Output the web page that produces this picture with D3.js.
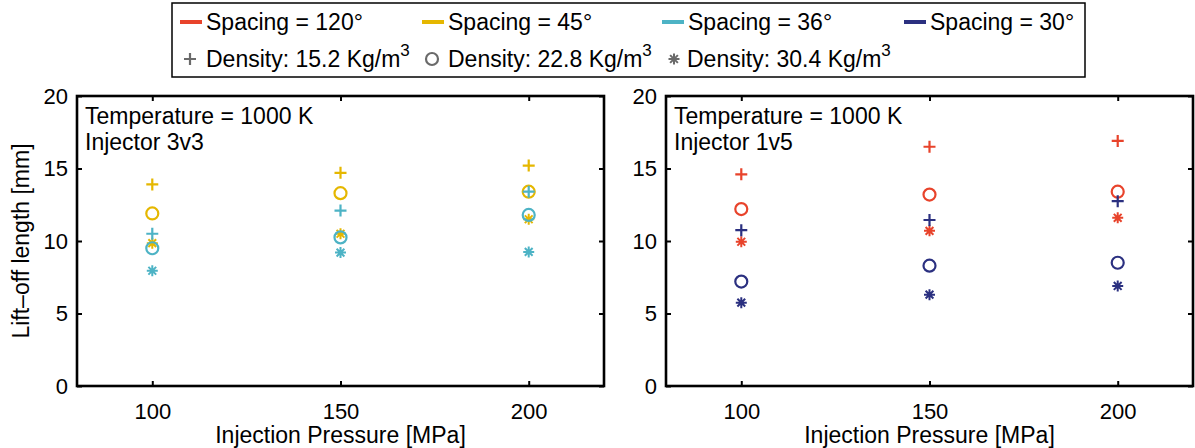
<!DOCTYPE html>
<html>
<head>
<meta charset="utf-8">
<script src="https://cdn.jsdelivr.net/npm/d3@7"></script>
<style>
  body { margin: 0; background: #fff; }
  svg text { font-family: "Liberation Sans", Arial, sans-serif; fill: #000; }
</style>
</head>
<body>
<div id="chart"></div>
<script>
// values, rows = density 15.2 / 22.8 / 30.4, cols = pressure
const pressures = [100, 150, 200];
const yTicks = [0, 5, 10, 15, 20];
const spacingLabels = ["Spacing = 120°", "Spacing = 45°", "Spacing = 36°", "Spacing = 30°"];
const densityLabels = ["15.2", "22.8", "30.4"];
const markerTypes = ["plus", "circle", "star"];

const inj3v3_spacing45 = [[13.9, 14.7, 15.2], [11.9, 13.3, 13.4], [9.85, 10.5, 11.5]];
const inj3v3_spacing36 = [[10.5, 12.1, 13.4], [9.5, 10.25, 11.8], [7.95, 9.2, 9.25]];
const inj1v5_spacing120 = [[14.6, 16.5, 16.9], [12.2, 13.2, 13.4], [9.95, 10.7, 11.6]];
const inj1v5_spacing30 = [[10.75, 11.45, 12.75], [7.2, 8.3, 8.5], [5.75, 6.3, 6.9]];

const colors = ["#E8432B", "#E5B700", "#4DB3C5", "#2B3080"];
const legendGrey = "#6a6a6a";

const W = 1195, H = 448;
const plotTop = 96, plotBottom = 386, plotW = 527;
const fontSize = 23;

const svg = d3.select("#chart").append("svg")
    .attr("width", W)
    .attr("height", H);

function drawMarker(g, type, cx, cy, color) {
    if (type == "circle") {
        g.append("circle")
            .attr("cx", cx).attr("cy", cy).attr("r", 6)
            .attr("fill", "none").attr("stroke", color).attr("stroke-width", 2.2);
    } else if (type == "plus") {
        g.append("path")
            .attr("d", `M${cx - 6},${cy}H${cx + 6}M${cx},${cy - 6}V${cy + 6}`)
            .attr("stroke", color).attr("stroke-width", 2.2);
    } else {
        let r = 5.5, d = r * 0.7071;
        g.append("path")
            .attr("d", `M${cx - r},${cy}H${cx + r}M${cx},${cy - r}V${cy + r}` +
                `M${cx - d},${cy - d}L${cx + d},${cy + d}M${cx - d},${cy + d}L${cx + d},${cy - d}`)
            .attr("stroke", color).attr("stroke-width", 2);
    }
}

const panels = [
    { left: 77, injector: "Injector 3v3", series: [[inj3v3_spacing45, colors[1]], [inj3v3_spacing36, colors[2]]], yLabel: true },
    { left: 666, injector: "Injector 1v5", series: [[inj1v5_spacing120, colors[0]], [inj1v5_spacing30, colors[3]]], yLabel: false }
];

for (let panel of panels) {
    let x = d3.scaleLinear([80, 220], [panel.left, panel.left + plotW]);
    let y = d3.scaleLinear([0, 20], [plotBottom, plotTop]);
    let g = svg.append("g");

    g.append("g")
        .attr("transform", `translate(0, ${plotBottom})`)
        .call(d3.axisBottom(x).tickValues(pressures).tickSizeInner(-5).tickSizeOuter(0).tickPadding(17))
        .call(a => a.selectAll("text").attr("font-size", 22).attr("font-family", "Liberation Sans, Arial, sans-serif"));
    g.append("g")
        .attr("transform", `translate(0, ${plotTop})`)
        .call(d3.axisTop(x).tickValues(pressures).tickSizeInner(-5).tickSizeOuter(0).tickFormat(""));
    g.append("g")
        .attr("transform", `translate(${panel.left}, 0)`)
        .call(d3.axisLeft(y).tickValues(yTicks).tickSizeInner(-5).tickSizeOuter(0).tickPadding(9))
        .call(a => a.selectAll("text").attr("font-size", 22).attr("font-family", "Liberation Sans, Arial, sans-serif"));
    g.append("g")
        .attr("transform", `translate(${panel.left + plotW}, 0)`)
        .call(d3.axisRight(y).tickValues(yTicks).tickSizeInner(-5).tickSizeOuter(0).tickFormat(""));

    g.selectAll(".domain").remove();
    g.selectAll(".tick line").attr("stroke", "#000").attr("stroke-width", 2);

    g.append("rect")
        .attr("x", panel.left).attr("y", plotTop)
        .attr("width", plotW).attr("height", plotBottom - plotTop)
        .attr("fill", "none").attr("stroke", "#000").attr("stroke-width", 2.6);

    for (let [values, color] of panel.series) {
        values.forEach((row, di) => {
            row.forEach((v, pi) => drawMarker(g, markerTypes[di], x(pressures[pi]), y(v), color));
        });
    }

    g.append("text")
        .attr("x", panel.left + 8).attr("y", 124)
        .attr("font-size", fontSize)
        .text("Temperature = 1000 K");
    g.append("text")
        .attr("x", panel.left + 8).attr("y", 150)
        .attr("font-size", fontSize)
        .text(panel.injector);

    g.append("text")
        .attr("x", panel.left + plotW / 2).attr("y", 443)
        .attr("text-anchor", "middle")
        .attr("font-size", fontSize)
        .text("Injection Pressure [MPa]");

    if (panel.yLabel) {
        g.append("text")
            .attr("transform", `translate(29, ${(plotTop + plotBottom) / 2}) rotate(-90)`)
            .attr("text-anchor", "middle")
            .attr("font-size", fontSize)
            .text("Lift–off length [mm]");
    }
}

// legend
let legend = svg.append("g");
legend.append("rect")
    .attr("x", 172).attr("y", 3).attr("width", 913).attr("height", 74)
    .attr("fill", "#fff").attr("stroke", "#000").attr("stroke-width", 1.5);

const spacingX = [180, 422, 662, 904];
spacingLabels.forEach((label, i) => {
    legend.append("line")
        .attr("x1", spacingX[i]).attr("x2", spacingX[i] + 22)
        .attr("y1", 22).attr("y2", 22)
        .attr("stroke", colors[i]).attr("stroke-width", 4);
    legend.append("text")
        .attr("x", spacingX[i] + 26).attr("y", 30)
        .attr("font-size", fontSize)
        .text(label);
});

const densityX = [190, 432, 674];
densityLabels.forEach((label, i) => {
    drawMarker(legend, markerTypes[i], densityX[i], 59, legendGrey);
    let t = legend.append("text")
        .attr("x", densityX[i] + (i == 2 ? 13 : 16)).attr("y", 67)
        .attr("font-size", fontSize);
    t.append("tspan").text(`Density: ${label} Kg/m`);
    t.append("tspan").attr("dy", -11).attr("font-size", 17).text("3");
});
</script>
</body>
</html>
